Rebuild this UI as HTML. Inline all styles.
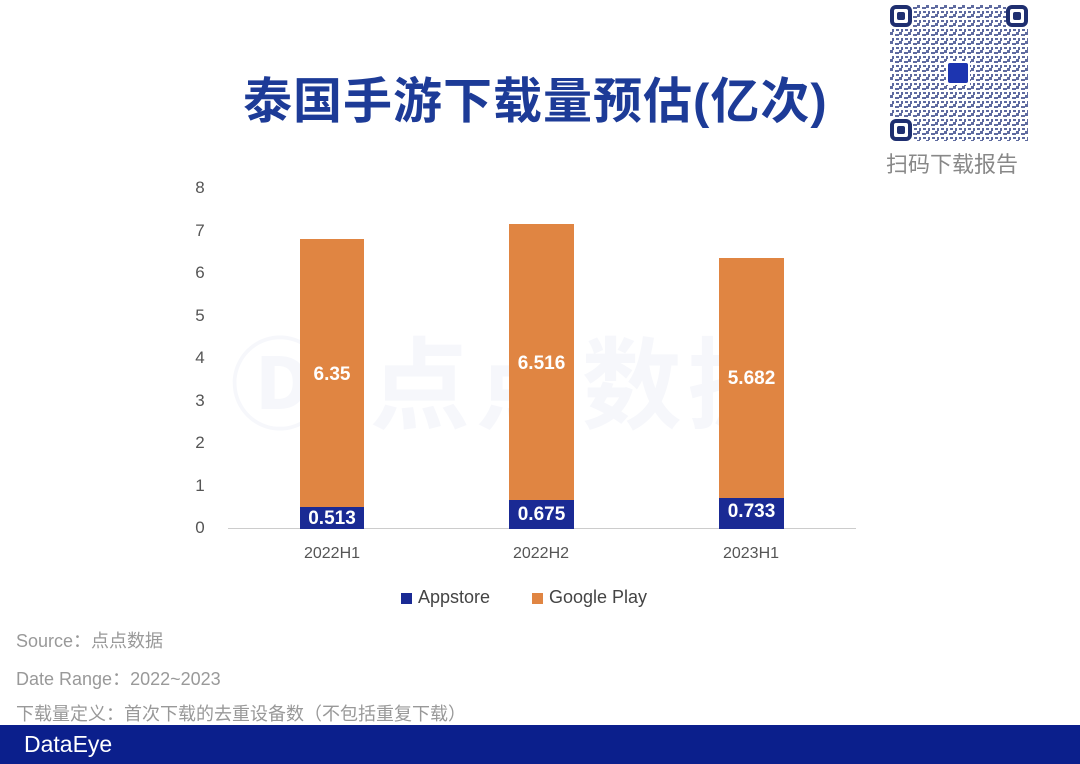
<!DOCTYPE html>
<html><head><meta charset="utf-8"><style>
body{margin:0;width:1080px;height:764px;background:#fff;position:relative;overflow:hidden;font-family:"Liberation Sans","Noto Sans CJK SC",sans-serif}
.abs{position:absolute}
.title{left:243px;top:62px;font-size:49px;font-weight:bold;color:#1d3b97;letter-spacing:1px;white-space:nowrap}
.yl{left:190px;width:20px;text-align:center;font-size:17px;color:#555}
.bar{background:#e08542}
.ap{background:#1a2a94}
.lab{color:#fff;font-weight:bold;font-size:19px;text-align:center}
.xl{font-size:16px;color:#555;text-align:center;width:120px}
.foot{left:16px;font-size:18px;color:#999;white-space:nowrap}
</style></head><body>
<div class="abs title">泰国手游下载量预估(亿次)</div>
<svg class="abs" style="left:890px;top:5px" width="138" height="136">
<defs><pattern id="p" width="9" height="9" patternUnits="userSpaceOnUse">
<rect x="0" y="0" width="3" height="3" fill="#2a3a80"/><rect x="5" y="2" width="4" height="2" fill="#2a3a80"/><rect x="2" y="6" width="2" height="3" fill="#2a3a80"/><rect x="6" y="6" width="3" height="2" fill="#2a3a80"/></pattern></defs>
<rect x="0" y="0" width="138" height="136" fill="url(#p)" opacity="0.75"/>
<rect x="0" y="0" width="22" height="22" fill="#fff"/><rect x="2" y="2" width="18" height="18" rx="4" fill="none" stroke="#1f2f70" stroke-width="4"/><rect x="7" y="7" width="8" height="8" rx="2" fill="#1f2f70"/>
<rect x="116" y="0" width="22" height="22" fill="#fff"/><rect x="118" y="2" width="18" height="18" rx="4" fill="none" stroke="#1f2f70" stroke-width="4"/><rect x="123" y="7" width="8" height="8" rx="2" fill="#1f2f70"/>
<rect x="0" y="114" width="22" height="22" fill="#fff"/><rect x="2" y="116" width="18" height="18" rx="4" fill="none" stroke="#1f2f70" stroke-width="4"/><rect x="7" y="121" width="8" height="8" rx="2" fill="#1f2f70"/>
<rect x="56" y="56" width="24" height="24" fill="#fff"/><rect x="58" y="58" width="20" height="20" rx="2" fill="#1d35b0"/>
</svg>
<div class="abs" style="left:886px;top:147px;font-size:22px;color:#888;white-space:nowrap">扫码下载报告</div>
<div class="abs" style="left:230px;top:305px;font-size:100px;font-weight:bold;color:#f6f7fb;white-space:nowrap;letter-spacing:6px">Ⓓ 点点数据</div>
<div class="abs yl" style="top:178px">8</div>
<div class="abs yl" style="top:221px">7</div>
<div class="abs yl" style="top:263px">6</div>
<div class="abs yl" style="top:306px">5</div>
<div class="abs yl" style="top:348px">4</div>
<div class="abs yl" style="top:391px">3</div>
<div class="abs yl" style="top:433px">2</div>
<div class="abs yl" style="top:476px">1</div>
<div class="abs yl" style="top:518px">0</div>
<div class="abs" style="left:228px;top:528px;width:628px;height:1px;background:#ccc"></div>
<div class="abs bar" style="left:300px;top:239px;width:64px;height:268px"></div>
<div class="abs ap" style="left:300px;top:507px;width:64px;height:22px"></div>
<div class="abs bar" style="left:509px;top:224px;width:65px;height:277px"></div>
<div class="abs ap" style="left:509px;top:500px;width:65px;height:29px"></div>
<div class="abs bar" style="left:719px;top:258px;width:65px;height:240px"></div>
<div class="abs ap" style="left:719px;top:498px;width:65px;height:31px"></div>
<div class="abs lab" style="left:300px;width:64px;top:364px">6.35</div>
<div class="abs lab" style="left:509px;width:65px;top:353px">6.516</div>
<div class="abs lab" style="left:719px;width:65px;top:368px">5.682</div>
<div class="abs lab" style="left:300px;width:64px;top:508px">0.513</div>
<div class="abs lab" style="left:509px;width:65px;top:504px">0.675</div>
<div class="abs lab" style="left:719px;width:65px;top:501px">0.733</div>
<div class="abs xl" style="left:272px;top:545px">2022H1</div>
<div class="abs xl" style="left:481px;top:545px">2022H2</div>
<div class="abs xl" style="left:691px;top:545px">2023H1</div>
<div class="abs" style="left:401px;top:593px;width:11px;height:11px;background:#1a2a94"></div>
<div class="abs" style="left:418px;top:587px;font-size:18px;color:#444">Appstore</div>
<div class="abs" style="left:532px;top:593px;width:11px;height:11px;background:#e08542"></div>
<div class="abs" style="left:549px;top:587px;font-size:18px;color:#444">Google Play</div>
<div class="abs foot" style="top:627px">Source：点点数据</div>
<div class="abs foot" style="top:665px">Date Range：2022~2023</div>
<div class="abs foot" style="top:700px">下载量定义：首次下载的去重设备数（不包括重复下载）</div>
<div class="abs" style="left:0;top:725px;width:1080px;height:39px;background:#0b1f8c"></div>
<div class="abs" style="left:24px;top:731px;font-size:23px;color:#fff">DataEye</div>
</body></html>
